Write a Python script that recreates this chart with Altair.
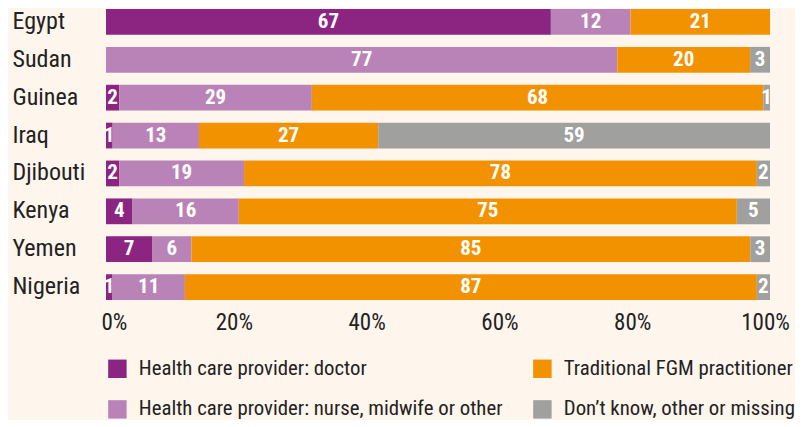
import altair as alt
import pandas as pd

countries = ["Egypt", "Sudan", "Guinea", "Iraq", "Djibouti", "Kenya", "Yemen", "Nigeria"]
categories = [
    "Health care provider: doctor",
    "Health care provider: nurse, midwife or other",
    "Traditional FGM practitioner",
    "Don\u2019t know, other or missing",
]
doctor = [67, 0, 2, 1, 2, 4, 7, 1]
nurse = [12, 77, 29, 13, 19, 16, 6, 11]
traditional = [21, 20, 68, 27, 78, 75, 85, 87]
unknown = [0, 3, 1, 59, 2, 5, 3, 2]
colors = ["#8B2581", "#BA83B8", "#F39200", "#A0A09F"]
tick_values = [0, 0.2, 0.4, 0.6, 0.8, 1.0]

rows = []
for i, c in enumerate(countries):
    for k, (cat, vals) in enumerate(zip(categories, [doctor, nurse, traditional, unknown])):
        if vals[i] > 0:
            rows.append({"country": c, "category": cat, "idx": k, "value": vals[i]})
df = pd.DataFrame(rows)

FONT = "Roboto Condensed, Liberation Sans Narrow, DejaVu Sans Condensed, Roboto, sans-serif"

base = alt.Chart(df).transform_stack(
    stack="value",
    groupby=["country"],
    as_=["x0", "x1"],
    offset="normalize",
    sort=[alt.SortField("idx", order="ascending")],
).transform_calculate(mid="(datum.x0 + datum.x1) / 2")

yenc = alt.Y(
    "country:N",
    sort=countries,
    title=None,
    scale=alt.Scale(paddingInner=0.32, paddingOuter=0),
    axis=alt.Axis(
        domain=False, ticks=False, labelAlign="left", labelPadding=94,
        labelFontSize=24, labelColor="#222222", labelFont=FONT,
    ),
)

bars = base.mark_bar().encode(
    x=alt.X(
        "x0:Q",
        title=None,
        scale=alt.Scale(domain=[0, 1], nice=False),
        axis=alt.Axis(
            values=tick_values, format="%", domain=False, ticks=False, grid=False,
            labelFontSize=23, labelColor="#222222", labelFont=FONT, labelPadding=11,
            labelFlush=False, labelOffset=-5,
            labelAlign={"condition": {"test": "datum.value === 0", "value": "left"}, "value": "center"},
        ),
    ),
    x2="x1:Q",
    y=yenc,
    color=alt.Color(
        "category:N",
        scale=alt.Scale(domain=categories, range=colors),
        legend=alt.Legend(
            title=None, orient="none", legendX=1, legendY=349, columns=2,
            symbolType="square", symbolSize=340, symbolStrokeWidth=0,
            labelFontSize=20.8, labelColor="#222222", labelFont=FONT, labelLimit=0,
            labelOffset=11, rowPadding=19, columnPadding=29, padding=0,
        ),
    ),
)

labels = base.mark_text(
    color="white", fontWeight="bold", fontSize=21, font=FONT, baseline="middle", align="center"
).encode(
    x="mid:Q",
    y=alt.Y("country:N", sort=countries),
    text="value:Q",
)

chart = (
    alt.layer(bars, labels)
    .properties(width=664, height=291, background="#FEF5EC", padding={"left": 4, "top": 1, "right": 0, "bottom": 0})
    .configure_view(stroke=None)
)

chart.save("out.html", embed_options={"renderer": "svg", "actions": False})
